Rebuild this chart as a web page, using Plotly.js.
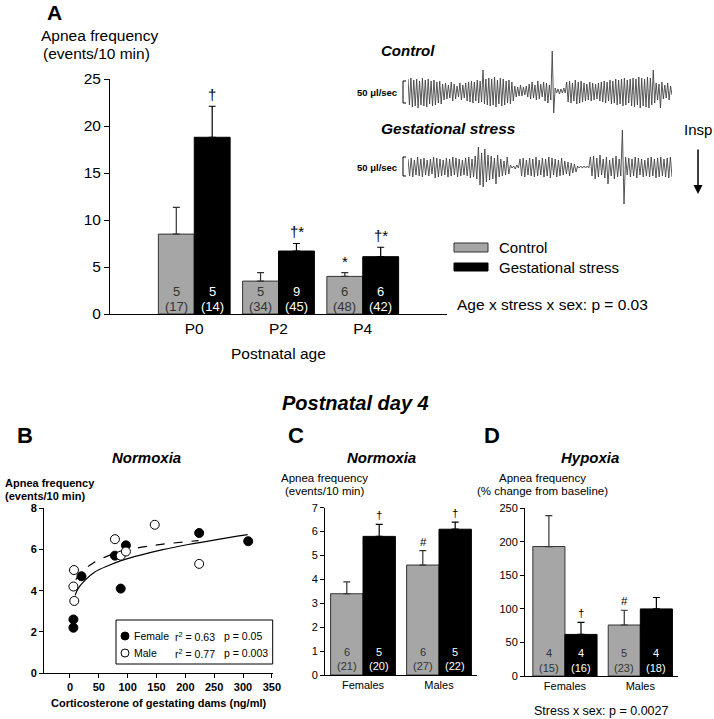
<!DOCTYPE html>
<html><head><meta charset="utf-8">
<script src="https://cdn.plot.ly/plotly-3.0.1.min.js"></script>
<style>html,body{margin:0;padding:0;background:#fff}#chart{width:714px;height:719px}</style>
</head><body><div id="chart"></div>
<script>
// ---------- Panel A data ----------
const agesA = ["P0", "P2", "P4"];
const ctrlA = [8.5, 3.5, 4.0];
const ctrlAErr = [2.85, 0.9, 0.4];
const stressA = [18.8, 6.7, 6.1];
const stressAErr = [3.3, 0.8, 1.0];
const ctrlALitters = [5, 5, 6];
const ctrlAPups = [17, 34, 48];
const stressALitters = [5, 9, 6];
const stressAPups = [14, 45, 42];
const ctrlASig = ["", "", "*"];
const stressASig = ["†", "†*", "†*"];

// ---------- Panel A example flow traces (peak / trough amplitudes) ----------
const controlFlow = [12,-14,13,-16,11,-15,12,-17,10,-14,13,-15,11,-16,12,-13,10,-15,11,-14,9,-12,10,-13,
  7,-9,8,-8,6,-7,9,-10,7,-8,5,-6,8,-9,6,-7,
  8,-10,9,-11,10,-12,9,-10,11,-12,10,-11,21,-13,12,-14,
  13,-15,12,-14,14,-16,11,-13,13,-15,12,-14,10,-12,11,-13,9,-10,
  5,-6,4,-5,6,-5,4,-4,5,-6,
  7,-8,9,-7,6,-9,10,-8,7,-6,9,-10,8,-12,6,-9,
  40,-22,
  3,-2,2,-3,2,-2,3,-2,
  9,-11,10,-12,8,-10,11,-13,9,-12,10,-11,8,-10,7,-9,9,-10,8,-9,7,-8,8,-10,9,-11,10,-12,9,-10,
  11,-13,10,-12,12,-14,11,-13,12,-15,13,-14,11,-12,12,-15,13,-16,12,-14,14,-17,13,-15,12,-16,14,-17,13,-14,
  21,-12,
  8,-9,7,-17,9,-8,6,-7,8,-9,5,-4];
const stressFlow = [8,-9,9,-10,7,-8,10,-9,8,-10,9,-8,7,-9,8,-7,10,-11,9,-10,8,-9,7,-8,9,-10,8,-9,10,-8,9,-10,8,-9,7,-8,9,-9,10,-11,8,-10,11,-12,
  20,-18,14,-20,18,-15,12,-13,
  11,-12,9,-17,12,-10,8,-9,6,-8,10,-7,
  2,-1,1,-2,2,-1,
  8,-9,9,-10,7,-8,9,-9,8,-10,10,-9,7,-8,9,-10,8,-9,10,-11,9,-8,8,-10,7,-9,9,-8,6,-7,5,-9,4,-6,3,-5,
  1,-1,1,-1,1,-1,1,-1,
  10,-9,11,-12,9,-10,12,-8,8,-11,10,-17,7,-9,9,-12,11,-10,8,-9,
  37,-37,
  10,-8,9,-10,8,-9,10,-11,9,-8,8,-10,7,-9,9,-10,10,-9,8,-11,9,-10,10,-9,8,-10,9,-11,10,-10];

// ---------- Panel B data ----------
const femCort = [6, 6, 20, 78, 88, 97, 224, 309];
const femApnea = [2.6, 2.2, 4.7, 5.7, 4.1, 6.2, 6.8, 6.4];
const maleCort = [7, 6, 7.5, 78, 88, 97, 147, 224];
const maleApnea = [5.0, 4.2, 3.5, 6.5, 5.7, 5.9, 7.2, 5.3];
const femFitX = [9, 14, 26, 43, 67, 90, 124, 159, 205, 252, 308];
const femFitY = [3.77, 4.1, 4.5, 4.9, 5.22, 5.47, 5.74, 5.98, 6.24, 6.47, 6.72];
const maleFitX = [10, 20, 38, 61, 90, 124, 165, 223];
const maleFitY = [4.53, 4.9, 5.3, 5.63, 5.92, 6.11, 6.27, 6.43];
const bTicks = [0, 50, 100, 150, 200, 250, 300, 350];

// ---------- Panel C data ----------
const sexes = ["Females", "Males"];
const ctrlC = [3.4, 4.6];
const ctrlCErr = [0.5, 0.6];
const stressC = [5.8, 6.1];
const stressCErr = [0.5, 0.3];
const ctrlCLitters = [6, 6], ctrlCPups = [21, 27];
const stressCLitters = [5, 5], stressCPups = [20, 22];
const ctrlCSig = ["", "#"], stressCSig = ["†", "†"];

// ---------- Panel D data ----------
const ctrlD = [193, 76];
const ctrlDErr = [46, 22];
const stressD = [62, 100];
const stressDErr = [18, 17];
const ctrlDLitters = [4, 5], ctrlDPups = [15, 23];
const stressDLitters = [4, 4], stressDPups = [16, 18];
const ctrlDSig = ["", "#"], stressDSig = ["†", ""];

// ---------- helpers ----------
const W = 714, H = 719;
const px = x => x / W;
const py = y => 1 - y / H;
const FONT = "Arial, 'Liberation Sans', sans-serif";
const GRAY = "#a6a6a6";

function barPair(cats, cv, ce, sv, se, xa, ya) {
  const base = {type: "bar", x: cats, xaxis: xa, yaxis: ya, showlegend: false, hoverinfo: "skip"};
  return [
    Object.assign({}, base, {
      y: cv,
      marker: {color: GRAY, line: {color: "#333", width: 1}},
      error_y: {type: "data", symmetric: false, array: ce, arrayminus: ce.map(() => 0),
                color: "#333", thickness: 1.2, width: 3.5}
    }),
    Object.assign({}, base, {
      y: sv,
      marker: {color: "#000", line: {color: "#000", width: 1}},
      error_y: {type: "data", symmetric: false, array: se, arrayminus: se.map(() => 0),
                color: "#000", thickness: 1.2, width: 3.5}
    })
  ];
}

function sigAnn(cats, vals, errs, sig, xa, ya, shift, fs) {
  return cats.map((c, i) => ({
    xref: xa, yref: ya, x: c, y: vals[i] + errs[i], text: sig[i], showarrow: false,
    xshift: shift, yanchor: "bottom", yshift: 1, font: {size: fs, color: "#000"}
  })).filter(a => a.text !== "");
}

function nAnn(cats, litters, pups, xa, ya, shift, fs, color, s1, s2) {
  const out = [];
  cats.forEach((c, i) => {
    out.push({xref: xa, yref: ya, x: c, y: 0, text: String(litters[i]), showarrow: false,
      xshift: shift, yshift: s1, yanchor: "middle", font: {size: fs, color: color}});
    out.push({xref: xa, yref: ya, x: c, y: 0, text: "(" + pups[i] + ")", showarrow: false,
      xshift: shift, yshift: s2, yanchor: "middle", font: {size: fs, color: color}});
  });
  return out;
}

const data = [];
data.push(...barPair(agesA, ctrlA, ctrlAErr, stressA, stressAErr, "x", "y"));
data.push(...barPair(sexes, ctrlC, ctrlCErr, stressC, stressCErr, "x3", "y3"));
data.push(...barPair(sexes, ctrlD, ctrlDErr, stressD, stressDErr, "x4", "y4"));

// Panel B
data.push({type: "scatter", mode: "lines", x: femFitX, y: femFitY, xaxis: "x2", yaxis: "y2",
  line: {color: "#000", width: 1.2, shape: "spline"}, showlegend: false, hoverinfo: "skip"});
data.push({type: "scatter", mode: "lines", x: maleFitX, y: maleFitY, xaxis: "x2", yaxis: "y2",
  line: {color: "#000", width: 1.2, dash: "dash", shape: "spline"}, showlegend: false, hoverinfo: "skip"});
data.push({type: "scatter", mode: "markers", x: femCort, y: femApnea, xaxis: "x2", yaxis: "y2",
  marker: {color: "#000", size: 9, line: {color: "#000", width: 1}}, showlegend: false, cliponaxis: false});
data.push({type: "scatter", mode: "markers", x: maleCort, y: maleApnea, xaxis: "x2", yaxis: "y2",
  marker: {color: "#fff", size: 9, line: {color: "#000", width: 1}}, showlegend: false, cliponaxis: false});

// Flow traces
data.push({type: "scatter", mode: "lines", x: controlFlow.map((v, i) => i), y: controlFlow,
  xaxis: "x5", yaxis: "y5", line: {color: "#444", width: 0.9}, showlegend: false, hoverinfo: "skip"});
data.push({type: "scatter", mode: "lines", x: stressFlow.map((v, i) => i), y: stressFlow,
  xaxis: "x6", yaxis: "y6", line: {color: "#444", width: 0.9}, showlegend: false, hoverinfo: "skip"});

const axBase = {showline: true, linecolor: "#000", linewidth: 1, showgrid: false, zeroline: false,
                fixedrange: true, tickcolor: "#000", tickwidth: 1};

function ann(text, x, y, o) {
  return Object.assign({xref: "paper", yref: "paper", x: px(x), y: py(y), text: text,
    showarrow: false, xanchor: "center", yanchor: "middle", font: {size: 12, color: "#000"}}, o || {});
}

const annotations = [
  ann("<b>A</b>", 45, 13, {xanchor: "left", font: {size: 21}}),
  ann("Apnea frequency", 99, 35, {font: {size: 15.5}}),
  ann("(events/10 min)", 97, 54, {font: {size: 15.5}}),
  ann("Postnatal age", 278, 354, {font: {size: 15.5}}),
  ann("<b><i>Control</i></b>", 379, 50, {xanchor: "left", font: {size: 15}}),
  ann("<b><i>Gestational stress</i></b>", 379, 129, {xanchor: "left", font: {size: 15.5}}),
  ann("<b>50 μl/sec</b>", 399, 92, {xanchor: "right", font: {size: 9.5}}),
  ann("<b>50 μl/sec</b>", 399, 167, {xanchor: "right", font: {size: 9.5}}),
  ann("Insp", 698, 130, {font: {size: 15}}),
  {xref: "paper", yref: "paper", x: px(698), y: py(194), ax: 0, ay: -46, text: "",
   showarrow: true, arrowhead: 2, arrowsize: 1.2, arrowwidth: 1.5, arrowcolor: "#000"},
  ann("Control", 497, 247, {xanchor: "left", font: {size: 15}}),
  ann("Gestational stress", 497, 267, {xanchor: "left", font: {size: 15}}),
  ann("Age x stress x sex: p = 0.03", 455, 305, {xanchor: "left", font: {size: 15.5}}),
  ann("<b><i>Postnatal day 4</i></b>", 355, 403, {font: {size: 20}}),
  ann("<b>B</b>", 15, 435, {xanchor: "left", font: {size: 22}}),
  ann("<b>C</b>", 286, 435, {xanchor: "left", font: {size: 22}}),
  ann("<b>D</b>", 482, 435, {xanchor: "left", font: {size: 22}}),
  ann("<b><i>Normoxia</i></b>", 146, 457, {font: {size: 15}}),
  ann("<b><i>Normoxia</i></b>", 381, 457, {font: {size: 15}}),
  ann("<b><i>Hypoxia</i></b>", 590, 457, {font: {size: 15}}),
  ann("<b>Apnea frequency</b>", 3, 483, {xanchor: "left", font: {size: 11}}),
  ann("<b>(events/10 min)</b>", 3, 496, {xanchor: "left", font: {size: 11}}),
  ann("<b>Corticosterone of gestating dams (ng/ml)</b>", 158, 703, {font: {size: 11}}),
  ann("Apnea frequency", 324, 478, {font: {size: 11.5}}),
  ann("(events/10 min)", 324, 491, {font: {size: 11.5}}),
  ann("Apnea frequency", 542, 478, {font: {size: 11.5}}),
  ann("(% change from baseline)", 542, 491, {font: {size: 11.5}}),
  ann("Stress x sex: p = 0.0027", 601, 711, {font: {size: 12.5}}),
  ann("Female", 132, 636, {xanchor: "left", font: {size: 10.5}}),
  ann("r<sup>2</sup> = 0.63", 173, 636, {xanchor: "left", font: {size: 10.5}}),
  ann("p = 0.05", 222, 636, {xanchor: "left", font: {size: 10.5}}),
  ann("Male", 132, 653, {xanchor: "left", font: {size: 10.5}}),
  ann("r<sup>2</sup> = 0.77", 173, 653, {xanchor: "left", font: {size: 10.5}}),
  ann("p = 0.003", 222, 653, {xanchor: "left", font: {size: 10.5}})
];
annotations.push(...sigAnn(agesA, ctrlA, ctrlAErr, ctrlASig, "x", "y", -18, 15));
annotations.push(...sigAnn(agesA, stressA, stressAErr, stressASig, "x", "y", 18, 15));
annotations.push(...sigAnn(sexes, ctrlC, ctrlCErr, ctrlCSig, "x3", "y3", -16, 11.5));
annotations.push(...sigAnn(sexes, stressC, stressCErr, stressCSig, "x3", "y3", 16, 11.5));
annotations.push(...sigAnn(sexes, ctrlD, ctrlDErr, ctrlDSig, "x4", "y4", -16, 11.5));
annotations.push(...sigAnn(sexes, stressD, stressDErr, stressDSig, "x4", "y4", 16, 11.5));
annotations.push(...nAnn(agesA, ctrlALitters, ctrlAPups, "x", "y", -18, 13, "#333", 23, 7.5));
annotations.push(...nAnn(agesA, stressALitters, stressAPups, "x", "y", 18, 13, "#fff", 23, 7.5));
annotations.push(...nAnn(sexes, ctrlCLitters, ctrlCPups, "x3", "y3", -16, 11, "#333", 23, 9));
annotations.push(...nAnn(sexes, stressCLitters, stressCPups, "x3", "y3", 16, 11, "#fff", 23, 9));
annotations.push(...nAnn(sexes, ctrlDLitters, ctrlDPups, "x4", "y4", -16, 11, "#333", 23, 8));
annotations.push(...nAnn(sexes, stressDLitters, stressDPups, "x4", "y4", 16, 11, "#fff", 23, 8));

function rect(x0, y0, x1, y1, fill, line) {
  return {type: "rect", xref: "paper", yref: "paper", x0: px(x0), x1: px(x1), y0: py(y1), y1: py(y0),
          fillcolor: fill, line: {color: line, width: 1}};
}
function bracket(x, y0, y1) {
  return {type: "path", xref: "paper", yref: "paper",
    path: `M ${px(x + 3)} ${py(y0)} L ${px(x)} ${py(y0)} L ${px(x)} ${py(y1)} L ${px(x + 3)} ${py(y1)}`,
    line: {color: "#000", width: 1}};
}
function circ(cx, cy, r, fill) {
  return {type: "circle", xref: "paper", yref: "paper", x0: px(cx - r), x1: px(cx + r),
          y0: py(cy + r), y1: py(cy - r), fillcolor: fill, line: {color: "#000", width: 1}};
}

const shapes = [
  rect(454, 243, 488, 252, GRAY, "#333"),
  rect(454, 263, 488, 271, "#000", "#000"),
  bracket(403, 81, 103),
  bracket(403, 157, 176),
  rect(116, 620, 272.7, 664, "#fff", "#000"),
  circ(125, 636, 4, "#000"),
  circ(125, 653, 4, "#fff")
];

const layout = {
  width: W, height: H, margin: {l: 0, r: 0, t: 0, b: 0},
  paper_bgcolor: "#fff", plot_bgcolor: "rgba(0,0,0,0)",
  font: {family: FONT, color: "#000", size: 12},
  barmode: "group", bargap: 0.148, bargroupgap: 0, showlegend: false,
  xaxis: Object.assign({}, axBase, {domain: [px(110), px(447)], anchor: "y", type: "category",
    range: [-1, 3], ticks: "", tickfont: {size: 15.5}}),
  yaxis: Object.assign({}, axBase, {domain: [py(314), py(79)], anchor: "x", range: [0, 25], dtick: 5,
    ticks: "outside", ticklen: 5, tickfont: {size: 15.5}}),
  xaxis2: Object.assign({}, axBase, {domain: [px(44), px(273)], anchor: "y2", range: [-45, 352],
    tickvals: bTicks, ticks: "outside", ticklen: 4, tickfont: {size: 11, weight: "bold"}}),
  yaxis2: Object.assign({}, axBase, {domain: [py(673), py(508.3)], anchor: "x2", range: [0, 8], dtick: 2,
    ticks: "outside", ticklen: 4, tickfont: {size: 11, weight: "bold"}}),
  xaxis3: Object.assign({}, axBase, {domain: [px(325), px(477)], anchor: "y3", type: "category",
    range: [-0.5, 1.5], ticks: "", tickfont: {size: 11}}),
  yaxis3: Object.assign({}, axBase, {domain: [py(675), py(507.7)], anchor: "x3", range: [0, 7], dtick: 1,
    ticks: "outside", ticklen: 4, tickfont: {size: 11}}),
  xaxis4: Object.assign({}, axBase, {domain: [px(525), px(678)], anchor: "y4", type: "category",
    range: [-0.53, 1.5], ticks: "", tickfont: {size: 11}}),
  yaxis4: Object.assign({}, axBase, {domain: [py(676), py(508.3)], anchor: "x4", range: [0, 250], dtick: 50,
    ticks: "outside", ticklen: 4, tickfont: {size: 11}}),
  xaxis5: {domain: [px(408), px(672)], anchor: "y5", range: [0, controlFlow.length - 1], visible: false, fixedrange: true},
  yaxis5: {domain: [py(133), py(49)], anchor: "x5", range: [-42, 42], visible: false, fixedrange: true},
  xaxis6: {domain: [px(408), px(672)], anchor: "y6", range: [0, stressFlow.length - 1], visible: false, fixedrange: true},
  yaxis6: {domain: [py(209), py(125)], anchor: "x6", range: [-42, 42], visible: false, fixedrange: true},
  annotations: annotations,
  shapes: shapes
};

Plotly.newPlot("chart", data, layout, {staticPlot: true, displayModeBar: false});
</script>
</body></html>
